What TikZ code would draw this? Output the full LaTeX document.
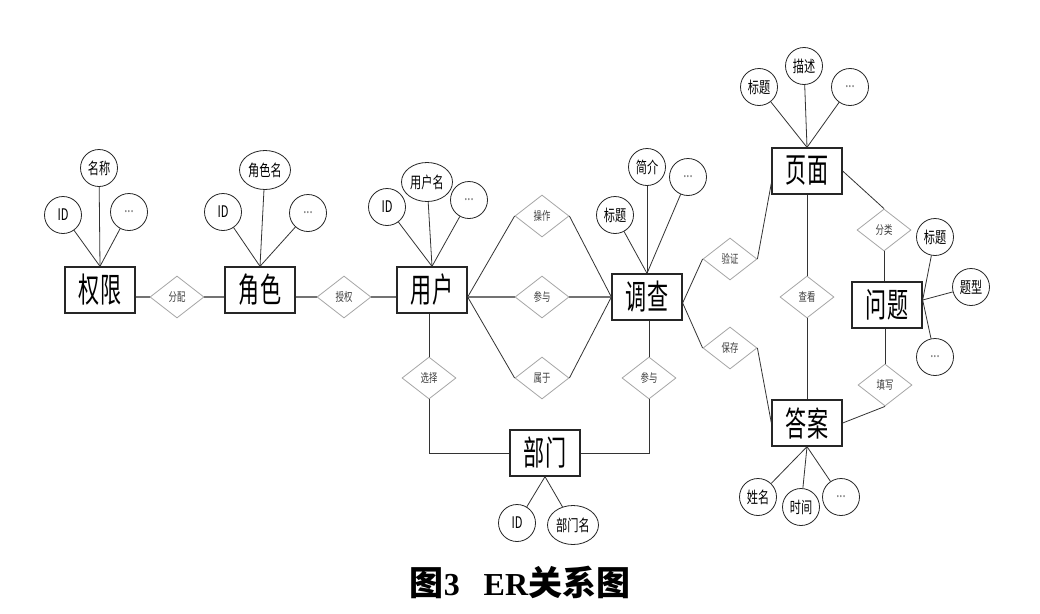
\documentclass[tikz,border=0pt]{standalone}
\usepackage{fontspec}
\usepackage{graphicx}
\usetikzlibrary{shapes.geometric,calc}
\newfontfamily\cjk{Noto Sans CJK SC}
\newfontfamily\tnr{Liberation Serif}
\newcommand\narrow[1]{\scalebox{0.7}[1]{#1}}
\newcommand\entnarrow[1]{\scalebox{0.62}[1]{#1}}
\tikzset{
  ent/.style={draw=black!85, line width=1.3pt, minimum width=70pt, minimum height=46pt, inner sep=0pt, font=\cjk\fontsize{34}{34}\selectfont},
  attr/.style={draw=black!85, circle, line width=0.8pt, minimum size=37pt, inner sep=0pt, font=\cjk\fontsize{16}{16}\selectfont},
  attre/.style={draw=black!85, ellipse, line width=0.8pt, minimum width=51pt, minimum height=39pt, inner sep=0pt, font=\cjk\fontsize{16}{16}\selectfont},
  rel/.style={draw=black!35, diamond, line width=0.8pt, minimum width=54pt, minimum height=42pt, inner sep=0pt, aspect=1.3, text=black!75, font=\cjk\fontsize{12}{12}\selectfont},
  ln/.style={draw=black!80, line width=0.8pt},
  thk/.style={draw=black!55, line width=1.8pt},
  dots/.style={text=black!55}
}
\begin{document}
\begin{tikzpicture}[x=1pt,y=-1pt]
\useasboundingbox[fill=white] (0,0) rectangle (1040,613);
% entities
\node[ent] (qx) at (100,290) {\entnarrow{权限}};
\node[ent] (js) at (260,290) {\entnarrow{角色}};
\node[ent] (yh) at (432,290) {\entnarrow{用户}};
\node[ent] (dc) at (647,297) {\entnarrow{调查}};
\node[ent] (ym) at (807,171) {\entnarrow{页面}};
\node[ent] (wt) at (887,305) {\entnarrow{问题}};
\node[ent] (da) at (807,423) {\entnarrow{答案}};
\node[ent] (bm) at (545,453) {\entnarrow{部门}};
% relations
\node[rel] (fp) at (177,297) {\narrow{分配}};
\node[rel] (sq) at (344,297) {\narrow{授权}};
\node[rel] (cz) at (542,216) {\narrow{操作}};
\node[rel] (cy) at (542,297) {\narrow{参与}};
\node[rel] (sy) at (542,378) {\narrow{属于}};
\node[rel] (xz) at (429,378) {\narrow{选择}};
\node[rel] (cyb) at (649,378) {\narrow{参与}};
\node[rel] (yz) at (730,259) {\narrow{验证}};
\node[rel] (bc) at (730,348) {\narrow{保存}};
\node[rel] (ck) at (807,297) {\narrow{查看}};
\node[rel] (fl) at (884,230) {\narrow{分类}};
\node[rel] (tx) at (885,385) {\narrow{填写}};
% attributes
\node[attr] (qa) at (63,215) {\narrow{ID}};
\node[attr] (qb) at (99,168) {\narrow{名称}};
\node[attr,dots] (qc) at (129,212) {\narrow{...}};
\node[attr] (ja) at (223,212) {\narrow{ID}};
\node[attre] (jb) at (265,170) {\narrow{角色名}};
\node[attr,dots] (jc) at (308,213) {\narrow{...}};
\node[attr] (ua) at (387,207) {\narrow{ID}};
\node[attre] (ub) at (427,182) {\narrow{用户名}};
\node[attr,dots] (uc) at (469,200) {\narrow{...}};
\node[attr] (da1) at (615,215) {\narrow{标题}};
\node[attr] (da2) at (647,167) {\narrow{简介}};
\node[attr,dots] (da3) at (688,177) {\narrow{...}};
\node[attr] (ya) at (759,87) {\narrow{标题}};
\node[attr] (yb) at (804,66) {\narrow{描述}};
\node[attr,dots] (yc) at (850,87) {\narrow{...}};
\node[attr] (wa) at (935,237) {\narrow{标题}};
\node[attr] (wb) at (971,287) {\narrow{题型}};
\node[attr,dots] (wc) at (935,357) {\narrow{...}};
\node[attr] (aa) at (758,497) {\narrow{姓名}};
\node[attr] (ab) at (801,507) {\narrow{时间}};
\node[attr,dots] (ac) at (841,497) {\narrow{...}};
\node[attr] (ba) at (517,523) {\narrow{ID}};
\node[attre] (bb) at (573,525) {\narrow{部门名}};
% attribute links
\foreach \e/\a in {qx/qa,qx/qb,qx/qc,js/ja,js/jb,js/jc,yh/ua,yh/ub,yh/uc,dc/da1,dc/da2,dc/da3,ym/ya,ym/yb,ym/yc}
  \draw[ln] (\e.north) -- (\a);
\foreach \a in {wa,wb,wc} \draw[ln] ($(wt.east)+(0,-5)$) -- (\a);
\foreach \a in {aa,ab,ac} \draw[ln] (da.south) -- (\a);
\foreach \a in {ba,bb} \draw[ln] (bm.south) -- (\a);
% relation links
\draw[thk] (qx.east |- fp.west) -- (fp.west);
\draw[thk] (fp.east) -- (fp.east -| js.west);
\draw[thk] (js.east |- sq.west) -- (sq.west);
\draw[thk] (sq.east) -- (sq.east -| yh.west);
\coordinate (ur) at (yh.east |- cy.west);
\draw[ln] (ur) -- (cz.west);
\draw[ln] (cz.east) -- (dc.west);
\draw[thk] (ur) -- (cy.west);
\draw[thk] (cy.east) -- (dc.west);
\draw[ln] (ur) -- (sy.west);
\draw[ln] (sy.east) -- (dc.west);
\draw[ln] (xz.north |- yh.south) -- (xz.north);
\draw[ln] (xz.south) -- (xz.south |- bm.west) -- (bm.west);
\draw[ln] (cyb.north |- dc.south) -- (cyb.north);
\draw[ln] (cyb.south) -- (cyb.south |- bm.east) -- (bm.east);
\coordinate (dr) at ($(dc.east)+(0,6)$);
\draw[ln] (dr) -- (yz.west);
\draw[ln] (yz.east) -- ($(ym.west)+(0,12)$);
\draw[ln] (dr) -- (bc.west);
\draw[ln] (bc.east) -- (da.west);
\draw[ln] (ym.south) -- (ck.north);
\draw[ln] (ck.south) -- (da.north);
\draw[ln] (ym.east) -- (fl.north);
\draw[ln] (fl.south) -- (fl.south |- wt.north);
\draw[ln] (tx.north |- wt.south) -- (tx.north);
\draw[ln] (tx.south) -- (da.east);
% caption
\node (cap) at (520,582) {\cjk\bfseries\fontsize{34}{34}\selectfont 图{\tnr\bfseries\fontsize{32}{32}\selectfont 3}\hspace{24pt}{\tnr\bfseries\fontsize{32}{32}\selectfont ER}关系图};
\end{tikzpicture}
\end{document}
